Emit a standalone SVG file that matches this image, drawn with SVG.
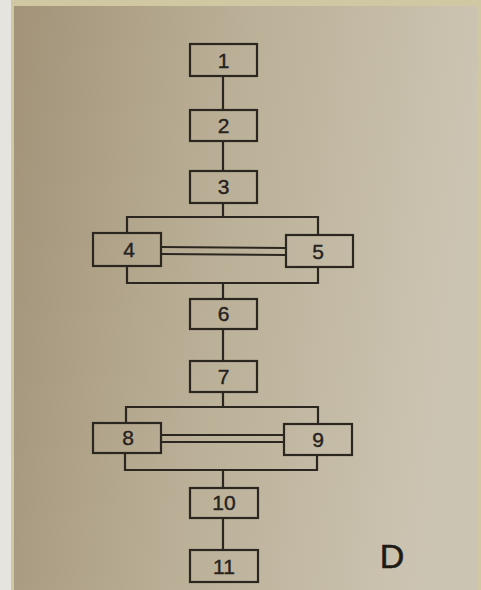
<svg xmlns="http://www.w3.org/2000/svg" width="481" height="590" viewBox="0 0 481 590">
<defs>
<linearGradient id="bg" x1="0" y1="0" x2="1" y2="0.15">
<stop offset="0" stop-color="#a29379"/>
<stop offset="0.45" stop-color="#b9ae95"/>
<stop offset="1" stop-color="#ccc4b2"/>
</linearGradient>
<style>
.box{fill:none;stroke:#2b2620;stroke-width:2.2}
.ln{fill:none;stroke:#2b2620;stroke-width:2.2}
.t{font-family:"Liberation Sans",Arial,sans-serif;font-size:21px;fill:#27221d;stroke:#27221d;stroke-width:0.4;text-anchor:middle}
</style>
</defs>
<rect x="0" y="0" width="481" height="590" fill="#cfc8a2"/>
<rect x="0" y="0" width="11" height="590" fill="#e6e4de"/>
<rect x="14" y="6" width="463" height="584" fill="url(#bg)"/>
<g id="connectors">
<line class="ln" x1="223" y1="76" x2="223" y2="110"/>
<line class="ln" x1="223" y1="141" x2="223" y2="171"/>
<line class="ln" x1="223" y1="203" x2="223" y2="217"/>
<polyline class="ln" points="127,233 127,217 318,217 318,235"/>
<polyline class="ln" points="127,266 127,283 318,283 318,267"/>
<line class="ln" x1="161" y1="247" x2="286" y2="248"/>
<line class="ln" x1="161" y1="254" x2="286" y2="255"/>
<line class="ln" x1="223" y1="283" x2="223" y2="299"/>
<line class="ln" x1="223" y1="329" x2="223" y2="361"/>
<line class="ln" x1="223" y1="392" x2="223" y2="407"/>
<polyline class="ln" points="126,423 126,407 318,407 318,424"/>
<polyline class="ln" points="125,453 125,470 317,470 317,455"/>
<line class="ln" x1="161" y1="435" x2="284" y2="435"/>
<line class="ln" x1="161" y1="442" x2="284" y2="442"/>
<line class="ln" x1="223" y1="470" x2="223" y2="488"/>
<line class="ln" x1="223" y1="518" x2="223" y2="550"/>
</g>
<g id="n1"><rect class="box" x="190" y="44" width="67" height="32"/><text class="t" x="223.5" y="68">1</text></g>
<g id="n2"><rect class="box" x="190" y="110" width="67" height="31"/><text class="t" x="223.5" y="133">2</text></g>
<g id="n3"><rect class="box" x="190" y="171" width="67" height="32"/><text class="t" x="223.5" y="194">3</text></g>
<g id="n4"><rect class="box" x="93" y="233" width="68" height="33"/><text class="t" x="129" y="257">4</text></g>
<g id="n5"><rect class="box" x="286" y="235" width="67" height="32"/><text class="t" x="318" y="259">5</text></g>
<g id="n6"><rect class="box" x="190" y="299" width="67" height="30"/><text class="t" x="223.5" y="321">6</text></g>
<g id="n7"><rect class="box" x="190" y="361" width="67" height="31"/><text class="t" x="223.5" y="384">7</text></g>
<g id="n8"><rect class="box" x="93" y="423" width="68" height="30"/><text class="t" x="128" y="445">8</text></g>
<g id="n9"><rect class="box" x="284" y="424" width="68" height="31"/><text class="t" x="318" y="447">9</text></g>
<g id="n10"><rect class="box" x="190" y="488" width="68" height="30"/><text class="t" x="224" y="510">10</text></g>
<g id="n11"><rect class="box" x="190" y="550" width="68" height="32"/><text class="t" x="224" y="574">11</text></g>
<text x="392" y="568" font-family="Liberation Sans,Arial,sans-serif" font-size="34" fill="#1e1a16" stroke="#1e1a16" stroke-width="0.6" text-anchor="middle">D</text>
</svg>
